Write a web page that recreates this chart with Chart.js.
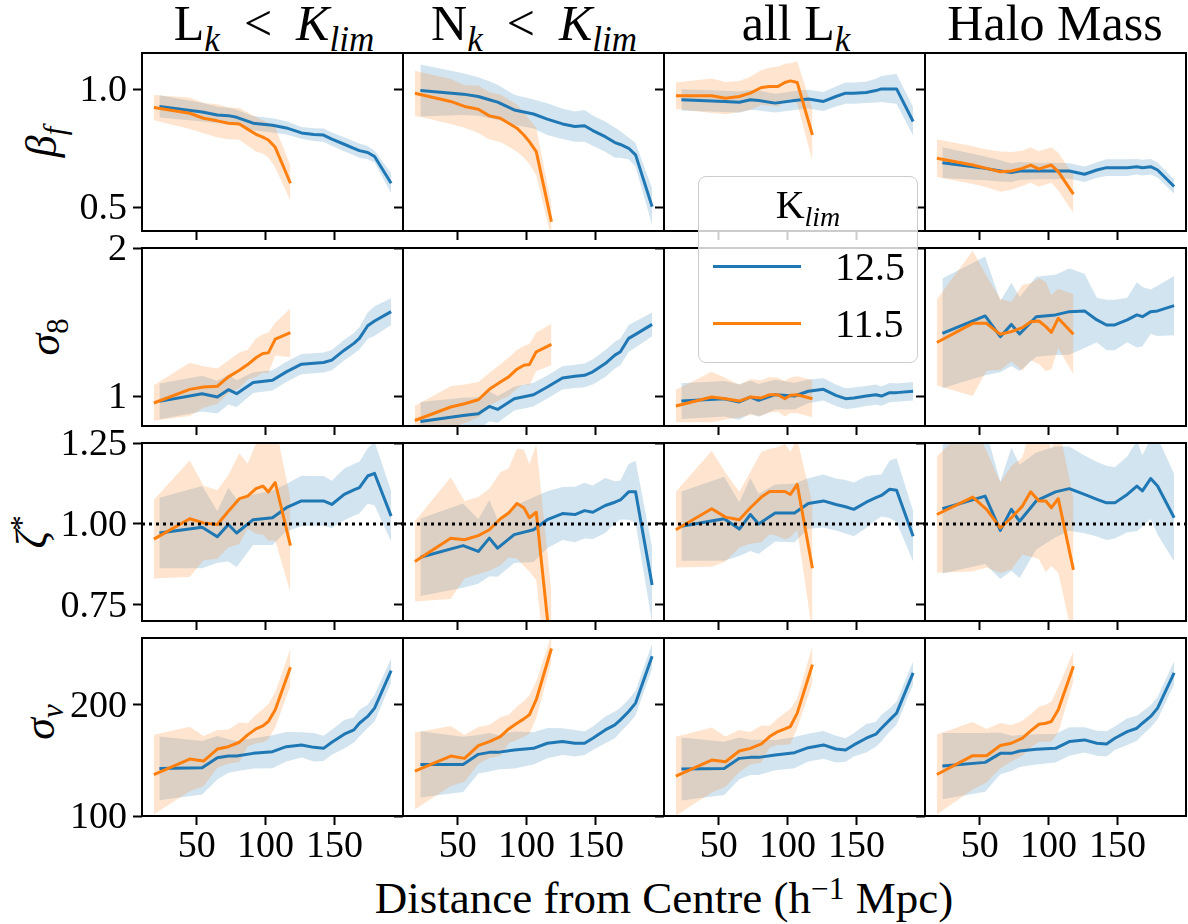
<!DOCTYPE html>
<html>
<head>
<meta charset="utf-8">
<script src="https://cdn.jsdelivr.net/npm/chart.js@4.4.1/dist/chart.umd.min.js"></script>
<style>
  body { margin: 0; background: #fff; }
  #fig { position: relative; width: 1188px; height: 924px; overflow: hidden;
         font-family: "Liberation Serif", "DejaVu Serif", serif; color: #000; }
  #fig canvas { position: absolute; }
  .txt { position: absolute; white-space: nowrap; line-height: 1; }
  .sb { font-size: 0.7em; position: relative; top: 0.3em; }
  .sp { font-size: 0.7em; position: relative; top: -0.45em; }
  .rel { margin: 0 24px; }
  .title { font-size: 50px; transform: translateX(-50%); top: -2px; }
  .ylab { font-size: 44px; transform: translate(-50%, -50%) rotate(-90deg); }
  #legend { position: absolute; left: 698px; top: 176px; width: 218px; height: 185px;
            background: rgba(255,255,255,0.8); border: 1.5px solid #ccc; border-radius: 8px;
            z-index: 5; font-size: 40px; }
  #legend .row { position: absolute; left: 14px; height: 3px; width: 88px; }
</style>
</head>
<body>
<div id="fig">
  <div class="txt title" style="left:274px">L<span class="sb"><i>k</i></span><span class="rel">&lt;</span><i>K</i><span class="sb"><i>lim</i></span></div>
  <div class="txt title" style="left:534px">N<span class="sb"><i>k</i></span><span class="rel">&lt;</span><i>K</i><span class="sb"><i>lim</i></span></div>
  <div class="txt title" style="left:796px">all L<span class="sb"><i>k</i></span></div>
  <div class="txt title" style="left:1055px">Halo Mass</div>

  <div class="txt ylab" style="left:42px; top:142px"><i>β</i><span class="sb"><i>f</i></span></div>
  <div class="txt ylab" style="left:45px; top:337px"><i>σ</i><span class="sb">8</span></div>
  <div class="txt ylab" style="left:32px; top:532px"><i>ζ</i><span class="sp">*</span></div>
  <div class="txt ylab" style="left:40px; top:722px"><i>σ</i><span class="sb"><i>v</i></span></div>

  <div class="txt" style="left:664px; top:876px; font-size:45px; transform:translateX(-50%)">Distance from Centre (h<span class="sp">−1</span> Mpc)</div>

  <div id="legend">
    <div class="txt" style="left:50%; top:8px; transform:translateX(-50%)">K<span class="sb"><i>lim</i></span></div>
    <div class="row" style="top:88px; background:#1f77b4"></div>
    <div class="txt" style="left:136px; top:70px">12.5</div>
    <div class="row" style="top:145px; background:#ff7f0e"></div>
    <div class="txt" style="left:136px; top:127px">11.5</div>
  </div>
</div>

<script>
// radial bins (h^-1 Mpc) for the two magnitude limits
const xBlue = [23, 54, 65, 73, 79, 91, 105, 115, 126, 135, 142, 148, 157, 164, 168, 174, 179, 191];
const xOrange = [19, 45, 55, 65, 73, 81, 87, 93, 98, 102, 107, 118];

// beta_f
const betaLk125 = [0.927, 0.903, 0.891, 0.888, 0.881, 0.856, 0.847, 0.836, 0.815, 0.808, 0.806, 0.789, 0.767, 0.750, 0.740, 0.732, 0.715, 0.602];
const betaLk125Err = [0.047, 0.04, 0.035, 0.033, 0.032, 0.03, 0.03, 0.028, 0.025, 0.027, 0.028, 0.028, 0.03, 0.03, 0.03, 0.028, 0.025, 0.042];
const betaLk115 = [0.922, 0.898, 0.877, 0.866, 0.856, 0.853, 0.831, 0.809, 0.797, 0.785, 0.754, 0.602];
const betaLk115Err = [0.053, 0.067, 0.064, 0.07, 0.068, 0.067, 0.07, 0.073, 0.07, 0.074, 0.085, 0.074];
const betaNk125 = [0.994, 0.979, 0.969, 0.955, 0.945, 0.912, 0.895, 0.873, 0.853, 0.842, 0.845, 0.825, 0.799, 0.774, 0.766, 0.750, 0.722, 0.503];
const betaNk125Err = [0.11, 0.088, 0.081, 0.078, 0.074, 0.064, 0.061, 0.067, 0.064, 0.064, 0.067, 0.064, 0.064, 0.064, 0.056, 0.046, 0.05, 0.078];
const betaNk115 = [0.983, 0.948, 0.927, 0.915, 0.887, 0.877, 0.856, 0.835, 0.806, 0.778, 0.736, 0.439];
const betaNk115Err = [0.095, 0.095, 0.09, 0.1, 0.1, 0.1, 0.1, 0.1, 0.095, 0.095, 0.1, 0.07];
const betaAll125 = [0.955, 0.948, 0.945, 0.955, 0.952, 0.941, 0.952, 0.958, 0.948, 0.969, 0.983, 0.983, 0.986, 0.994, 1.001, 1.001, 1.001, 0.863];
const betaAll125Err = [0.045, 0.045, 0.045, 0.042, 0.042, 0.04, 0.04, 0.04, 0.04, 0.042, 0.045, 0.045, 0.045, 0.05, 0.055, 0.06, 0.063, 0.06];
const betaAll115 = [0.972, 0.972, 0.962, 0.969, 0.983, 1.007, 1.011, 1.011, 1.028, 1.035, 1.028, 0.806];
const betaAll115Err = [0.056, 0.073, 0.068, 0.066, 0.07, 0.074, 0.08, 0.085, 0.08, 0.075, 0.09, 0.11];
const betaHalo125 = [0.689, 0.665, 0.654, 0.647, 0.654, 0.654, 0.654, 0.654, 0.640, 0.658, 0.668, 0.668, 0.668, 0.672, 0.668, 0.672, 0.658, 0.588];
const betaHalo125Err = [0.065, 0.05, 0.045, 0.04, 0.038, 0.035, 0.035, 0.033, 0.033, 0.033, 0.035, 0.035, 0.035, 0.033, 0.033, 0.033, 0.032, 0.03];
const betaHalo115 = [0.708, 0.679, 0.665, 0.651, 0.654, 0.665, 0.679, 0.662, 0.672, 0.679, 0.651, 0.556];
const betaHalo115Err = [0.08, 0.08, 0.08, 0.085, 0.08, 0.075, 0.075, 0.075, 0.075, 0.075, 0.08, 0.08];

// sigma_8
const sig8Lk125 = [0.966, 1.018, 0.995, 1.045, 1.018, 1.093, 1.108, 1.165, 1.217, 1.223, 1.228, 1.244, 1.311, 1.357, 1.391, 1.476, 1.508, 1.571];
const sig8Lk125Err = [0.12, 0.12, 0.11, 0.1, 0.09, 0.07, 0.068, 0.068, 0.068, 0.068, 0.068, 0.068, 0.07, 0.07, 0.075, 0.09, 0.1, 0.09];
const sig8Lk115 = [0.955, 1.047, 1.063, 1.068, 1.131, 1.176, 1.214, 1.260, 1.289, 1.293, 1.386, 1.429];
const sig8Lk115Err = [0.12, 0.18, 0.14, 0.12, 0.11, 0.12, 0.1, 0.13, 0.13, 0.135, 0.11, 0.165];
const sig8Nk125 = [0.831, 0.871, 0.883, 0.932, 0.912, 0.984, 1.011, 1.063, 1.124, 1.135, 1.142, 1.165, 1.221, 1.278, 1.300, 1.391, 1.418, 1.485];
const sig8Nk125Err = [0.13, 0.12, 0.11, 0.1, 0.09, 0.08, 0.08, 0.078, 0.078, 0.078, 0.08, 0.085, 0.09, 0.09, 0.09, 0.09, 0.088, 0.08];
const sig8Nk115 = [0.837, 0.928, 0.950, 0.977, 1.047, 1.097, 1.131, 1.183, 1.210, 1.214, 1.300, 1.350];
const sig8Nk115Err = [0.1, 0.14, 0.13, 0.12, 0.11, 0.12, 0.13, 0.13, 0.13, 0.14, 0.13, 0.14];
const sig8All125 = [0.968, 0.984, 0.962, 0.995, 0.973, 1.011, 1.002, 1.034, 1.047, 1.007, 0.984, 0.989, 1.002, 1.011, 1.002, 1.025, 1.025, 1.034];
const sig8All125Err = [0.12, 0.12, 0.12, 0.11, 0.11, 0.1, 0.09, 0.08, 0.075, 0.073, 0.07, 0.07, 0.068, 0.068, 0.065, 0.065, 0.062, 0.062];
const sig8All115 = [0.935, 0.995, 0.984, 0.968, 0.995, 0.989, 1.011, 1.011, 0.984, 1.007, 1.011, 0.984];
const sig8All115Err = [0.11, 0.17, 0.14, 0.11, 0.12, 0.12, 0.12, 0.115, 0.12, 0.12, 0.125, 0.125];
const sig8Halo125 = [1.424, 1.542, 1.402, 1.485, 1.420, 1.537, 1.549, 1.571, 1.576, 1.515, 1.481, 1.481, 1.515, 1.549, 1.537, 1.571, 1.576, 1.612];
const sig8Halo125Err = [0.37, 0.4, 0.24, 0.28, 0.25, 0.27, 0.27, 0.29, 0.25, 0.15, 0.17, 0.17, 0.15, 0.22, 0.2, 0.15, 0.17, 0.2];
const sig8Halo115 = [1.363, 1.492, 1.492, 1.418, 1.436, 1.463, 1.503, 1.508, 1.470, 1.431, 1.526, 1.418];
const sig8Halo115Err = [0.29, 0.49, 0.32, 0.24, 0.2, 0.29, 0.26, 0.29, 0.3, 0.25, 0.2, 0.27];

// zeta*
const zetaLk125 = [0.972, 0.990, 0.960, 0.998, 0.972, 1.013, 1.019, 1.050, 1.071, 1.071, 1.071, 1.060, 1.091, 1.105, 1.112, 1.148, 1.156, 1.024];
const zetaLk125Err = [0.109, 0.127, 0.08, 0.114, 0.105, 0.078, 0.084, 0.073, 0.078, 0.077, 0.077, 0.073, 0.08, 0.08, 0.08, 0.086, 0.098, 0.078];
const zetaLk115 = [0.953, 1.016, 1.003, 0.998, 1.039, 1.078, 1.086, 1.109, 1.117, 1.099, 1.128, 0.933];
const zetaLk115Err = [0.122, 0.18, 0.115, 0.106, 0.112, 0.14, 0.1, 0.14, 0.15, 0.15, 0.18, 0.145];
const zetaNk125 = [0.897, 0.933, 0.915, 0.956, 0.925, 0.967, 0.982, 1.013, 1.032, 1.029, 1.041, 1.036, 1.057, 1.067, 1.074, 1.099, 1.099, 0.811];
const zetaNk125Err = [0.12, 0.13, 0.1, 0.118, 0.088, 0.088, 0.1, 0.088, 0.082, 0.086, 0.086, 0.083, 0.085, 0.065, 0.06, 0.086, 0.096, 0.117];
const zetaNk115 = [0.884, 0.956, 0.951, 0.964, 0.982, 1.016, 1.034, 1.063, 1.050, 1.019, 1.036, 0.588];
const zetaNk115Err = [0.124, 0.188, 0.12, 0.119, 0.127, 0.144, 0.138, 0.17, 0.18, 0.166, 0.21, 0.2];
const zetaAll125 = [0.993, 1.016, 0.984, 1.029, 1.000, 1.034, 1.034, 1.063, 1.071, 1.060, 1.053, 1.045, 1.067, 1.081, 1.088, 1.107, 1.104, 0.962];
const zetaAll125Err = [0.107, 0.13, 0.083, 0.113, 0.093, 0.088, 0.091, 0.078, 0.082, 0.08, 0.083, 0.083, 0.08, 0.07, 0.065, 0.089, 0.099, 0.078];
const zetaAll115 = [0.982, 1.047, 1.021, 1.013, 1.050, 1.083, 1.100, 1.100, 1.100, 1.091, 1.122, 0.863];
const zetaAll115Err = [0.117, 0.179, 0.137, 0.086, 0.111, 0.14, 0.132, 0.137, 0.148, 0.132, 0.14, 0.2];
const zetaHalo125 = [1.047, 1.086, 0.980, 1.045, 1.008, 1.071, 1.099, 1.109, 1.091, 1.076, 1.065, 1.065, 1.091, 1.117, 1.102, 1.140, 1.117, 1.019];
const zetaHalo125Err = [0.2, 0.21, 0.15, 0.19, 0.175, 0.15, 0.14, 0.13, 0.12, 0.115, 0.115, 0.11, 0.117, 0.14, 0.11, 0.125, 0.15, 0.135];
const zetaHalo115 = [1.029, 1.083, 1.045, 0.988, 1.019, 1.055, 1.099, 1.071, 1.071, 1.050, 1.078, 0.858];
const zetaHalo115Err = [0.18, 0.23, 0.18, 0.14, 0.16, 0.15, 0.2, 0.18, 0.22, 0.18, 0.23, 0.22];

// sigma_v
const sigvLk125 = [142.8, 143.4, 152.4, 153.9, 153.9, 156.3, 157.8, 162.3, 163.9, 161.7, 160.8, 166.3, 173.5, 177.4, 183.4, 189.5, 197.0, 230.7];
const sigvLk125Err = [28.6, 24.1, 19.6, 15, 13.6, 13.6, 14.8, 13.3, 11.3, 12.8, 11.3, 11.3, 12.8, 11.3, 12, 10.5, 12, 10.8];
const sigvLk115 = [137.3, 151.2, 149.4, 160.2, 162.3, 166.3, 172.9, 178.3, 181.0, 184.9, 195.5, 233.7];
const sigvLk115Err = [35.7, 29, 22.6, 16.9, 15.4, 17.8, 10.5, 12.8, 15, 15.8, 15.8, 16.6];
const sigvNk125 = [146.4, 146.4, 155.4, 157.2, 157.2, 159.3, 160.8, 165.4, 166.9, 165.4, 165.4, 169.9, 177.4, 181.9, 186.4, 194.0, 201.5, 243.7];
const sigvNk125Err = [29.8, 24.8, 17.3, 17.3, 15.5, 16.6, 14.5, 13.6, 12, 12, 10.5, 10.5, 12, 12, 11, 11, 11, 11.3];
const sigvNk115 = [140.4, 153.9, 151.8, 163.3, 166.9, 171.4, 178.3, 183.4, 187.3, 191.0, 204.5, 250.6];
const sigvNk115Err = [34.6, 27, 21, 16.6, 14.8, 17.3, 12.8, 15, 16, 17.3, 16.6, 12];
const sigvAll125 = [142.2, 142.8, 151.8, 152.7, 152.7, 154.8, 156.9, 161.4, 163.9, 160.2, 159.3, 163.9, 169.9, 173.5, 178.9, 186.4, 192.5, 228.6];
const sigvAll125Err = [28.3, 24, 18.8, 15.8, 15.8, 13.6, 14, 12.5, 12.5, 12, 10.5, 10.5, 12.8, 11.3, 12, 10.5, 10.5, 10.5];
const sigvAll115 = [135.8, 150.3, 148.8, 158.4, 160.8, 164.8, 171.4, 175.9, 178.3, 180.4, 192.5, 236.1];
const sigvAll115Err = [35.5, 29.2, 22.6, 18.8, 14.6, 16.6, 9.8, 12, 14.3, 15.8, 13.6, 16.6];
const sigvHalo125 = [144.9, 148.2, 156.3, 156.3, 158.4, 159.9, 160.8, 166.9, 168.4, 165.4, 164.8, 169.9, 175.9, 178.9, 183.4, 189.5, 197.0, 228.6];
const sigvHalo125Err = [29.8, 26.4, 18.8, 15.8, 14.3, 13.6, 12.8, 12.8, 11.3, 11.3, 11.3, 10.5, 12, 11.3, 10.5, 10, 10, 10.5];
const sigvHalo115 = [137.3, 154.2, 154.2, 163.3, 165.4, 169.9, 176.5, 182.5, 183.4, 184.9, 195.5, 234.6];
const sigvHalo115Err = [36, 30.4, 24, 20.3, 16.3, 15.8, 15, 15.8, 16.6, 18, 20.3, 13.6];

const xTicks = [50, 100, 150];

const rows = [
  { min: 0.4, max: 1.153, ticks: [0.5, 1.0], digits: 1,
    panels: [[betaLk125, betaLk125Err, betaLk115, betaLk115Err],
             [betaNk125, betaNk125Err, betaNk115, betaNk115Err],
             [betaAll125, betaAll125Err, betaAll115, betaAll115Err],
             [betaHalo125, betaHalo125Err, betaHalo115, betaHalo115Err]] },
  { min: 0.8, max: 2.0, ticks: [1, 2], digits: 0,
    panels: [[sig8Lk125, sig8Lk125Err, sig8Lk115, sig8Lk115Err],
             [sig8Nk125, sig8Nk125Err, sig8Nk115, sig8Nk115Err],
             [sig8All125, sig8All125Err, sig8All115, sig8All115Err],
             [sig8Halo125, sig8Halo125Err, sig8Halo115, sig8Halo115Err]] },
  { min: 0.7, max: 1.25, ticks: [0.75, 1.0, 1.25], digits: 2, refLine: 1.0,
    panels: [[zetaLk125, zetaLk125Err, zetaLk115, zetaLk115Err],
             [zetaNk125, zetaNk125Err, zetaNk115, zetaNk115Err],
             [zetaAll125, zetaAll125Err, zetaAll115, zetaAll115Err],
             [zetaHalo125, zetaHalo125Err, zetaHalo115, zetaHalo115Err]] },
  { min: 100, max: 260, ticks: [100, 200], digits: 0,
    panels: [[sigvLk125, sigvLk125Err, sigvLk115, sigvLk115Err],
             [sigvNk125, sigvNk125Err, sigvNk115, sigvNk115Err],
             [sigvAll125, sigvAll125Err, sigvAll115, sigvAll115Err],
             [sigvHalo125, sigvHalo125Err, sigvHalo115, sigvHalo115Err]] },
];

const BLUE = '#1f77b4', ORANGE = '#ff7f0e';
const colLeft = [142, 403, 664, 925];
const rowTop = [53, 248, 443, 638];
const panelW = 261, panelH = 178;
const TICK_FONT = "38px 'Liberation Serif', 'DejaVu Serif', serif";

Chart.defaults.font.family = "'Liberation Serif', 'DejaVu Serif', serif";
Chart.defaults.color = '#000';

const pts = (xs, ys) => xs.map((x, i) => ({ x, y: ys[i] }));
const shifted = (xs, ys, err, s) => xs.map((x, i) => ({ x, y: ys[i] + s * err[i] }));

// axes frame on all four sides, tick labels, optional dotted reference line
const framePlugin = {
  id: 'frame',
  afterDatasetsDraw(chart, args, opts) {
    if (opts.refLine === undefined) return;
    const { ctx, chartArea: a } = chart;
    const y = chart.scales.y.getPixelForValue(opts.refLine);
    ctx.save();
    ctx.beginPath();
    ctx.rect(a.left, a.top, a.right - a.left, a.bottom - a.top);
    ctx.clip();
    ctx.strokeStyle = '#000';
    ctx.lineWidth = 3;
    ctx.setLineDash([3, 4]);
    ctx.beginPath();
    ctx.moveTo(a.left, y);
    ctx.lineTo(a.right, y);
    ctx.stroke();
    ctx.restore();
  },
  afterDraw(chart, args, opts) {
    const { ctx, chartArea: a, scales } = chart;
    ctx.save();
    ctx.strokeStyle = '#000';
    ctx.lineWidth = 2;
    ctx.strokeRect(a.left, a.top, a.right - a.left, a.bottom - a.top);
    ctx.fillStyle = '#000';
    ctx.font = TICK_FONT;
    if (opts.yLabels) {
      ctx.textAlign = 'right';
      ctx.textBaseline = 'middle';
      opts.yLabels.forEach(v => {
        ctx.fillText(v.toFixed(opts.digits), a.left - 15, scales.y.getPixelForValue(v) + 2);
      });
    }
    if (opts.xLabels) {
      ctx.textAlign = 'center';
      ctx.textBaseline = 'top';
      opts.xLabels.forEach(v => {
        ctx.fillText(String(v), scales.x.getPixelForValue(v), a.bottom + 12);
      });
    }
    ctx.restore();
  }
};

const fig = document.getElementById('fig');

rows.forEach((row, r) => {
  row.panels.forEach(([b, bErr, o, oErr], c) => {
    const padL = c === 0 ? 130 : 14, padR = 2, padT = c === 0 ? 30 : 2, padB = r === 3 ? 62 : 14;
    const canvas = document.createElement('canvas');
    canvas.width = panelW + padL + padR;
    canvas.height = panelH + padT + padB;
    canvas.style.left = (colLeft[c] - padL) + 'px';
    canvas.style.top = (rowTop[r] - padT) + 'px';
    fig.appendChild(canvas);

    const line = (data, color) => ({ data, borderColor: color, borderWidth: 3, pointRadius: 0,
      fill: false, tension: 0, borderJoinStyle: 'round' });
    const edge = (data) => ({ data, borderWidth: 0, pointRadius: 0, fill: false });
    const bandTop = (data, lowIdx, color) => ({ data, borderWidth: 0, pointRadius: 0,
      fill: { target: lowIdx }, backgroundColor: color });

    const axisGrid = { drawOnChartArea: false, drawTicks: true, tickLength: 9, tickWidth: 2, tickColor: '#000' };

    new Chart(canvas, {
      type: 'line',
      data: {
        datasets: [
          line(pts(xOrange, o), ORANGE),
          line(pts(xBlue, b), BLUE),
          edge(shifted(xOrange, o, oErr, -1)),
          bandTop(shifted(xOrange, o, oErr, 1), 2, 'rgba(255,127,14,0.2)'),
          edge(shifted(xBlue, b, bErr, -1)),
          bandTop(shifted(xBlue, b, bErr, 1), 4, 'rgba(31,119,180,0.2)'),
        ]
      },
      options: {
        responsive: false,
        animation: false,
        devicePixelRatio: 1,
        events: [],
        layout: { padding: { top: padT, right: padR, left: 0, bottom: 0 } },
        plugins: {
          legend: { display: false },
          tooltip: { enabled: false },
          frame: {
            refLine: row.refLine,
            digits: row.digits,
            yLabels: c === 0 ? row.ticks : null,
            xLabels: r === 3 ? xTicks : null
          }
        },
        scales: {
          x: {
            type: 'linear', min: 10.4, max: 199.6,
            afterBuildTicks: (s) => { s.ticks = xTicks.map(v => ({ value: v })); },
            afterFit: (s) => { s.height = padB; },
            border: { display: false },
            grid: axisGrid,
            ticks: { display: false, autoSkip: false }
          },
          y: {
            type: 'linear', min: row.min, max: row.max,
            afterBuildTicks: (s) => { s.ticks = row.ticks.map(v => ({ value: v })); },
            afterFit: (s) => { s.width = padL; },
            border: { display: false },
            grid: axisGrid,
            ticks: { display: false, autoSkip: false }
          }
        }
      },
      plugins: [framePlugin]
    });
  });
});
</script>
</body>
</html>
